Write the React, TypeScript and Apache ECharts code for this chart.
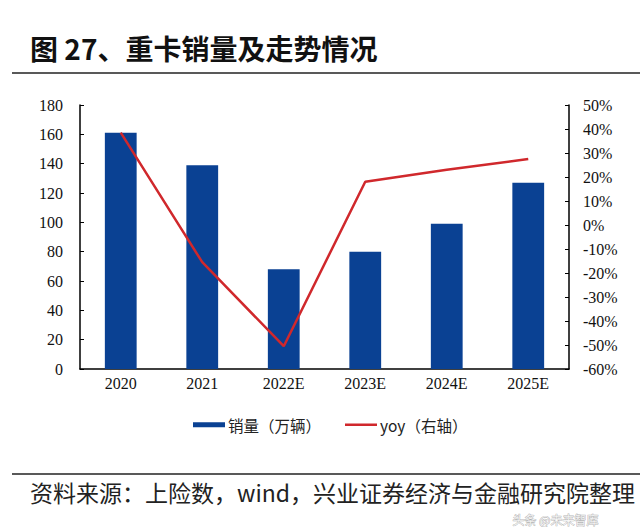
import React, { useEffect, useRef } from "react";
import * as echarts from "echarts";

const categories = ["2020", "2021", "2022E", "2023E", "2024E", "2025E"];
const salesValues = [161, 139, 68, 80, 99, 127];
const yoyValues = [38.5, -15.5, -50.5, 18, 23, 27.5];
const leftTicks = [0, 20, 40, 60, 80, 100, 120, 140, 160, 180];
const rightTicks = [-60, -50, -40, -30, -20, -10, 0, 10, 20, 30, 40, 50];

const titleText = "图 27、重卡销量及走势情况";
const sourceText = "资料来源：上险数，wind，兴业证券经济与金融研究院整理";
const watermark = "头条 @未来智库";

export default function App() {
  const ref = useRef<HTMLDivElement>(null);
  useEffect(() => {
    const chart = echarts.init(ref.current!, null, { renderer: "svg" });
    const serif = "'Liberation Serif', 'Times New Roman', serif";
    const cjk = "'Noto Sans CJK SC', sans-serif";
    chart.setOption({
      animation: false,
      backgroundColor: "#ffffff",
      grid: { left: 80, right: 71, top: 105, bottom: 158 },
      legend: {
        left: 188,
        top: 412,
        itemWidth: 32,
        itemHeight: 5,
        itemGap: 24,
        textStyle: { fontFamily: cjk, fontSize: 15.5, color: "#222", padding: [0, 0, 0, -2] },
        data: [
          { name: "销量（万辆）", icon: "rect" },
          { name: "yoy（右轴）", icon: "path://M0,0h32v2.5H0z" },
        ],
      },
      xAxis: {
        type: "category",
        data: categories,
        axisLine: { lineStyle: { color: "#000", width: 1.5 } },
        axisTick: { show: false },
        axisLabel: { fontFamily: serif, fontSize: 16, color: "#111", margin: 6 },
      },
      yAxis: [
        {
          type: "value",
          min: leftTicks[0],
          max: leftTicks[leftTicks.length - 1],
          interval: 20,
          splitLine: { show: false },
          axisLine: { show: true, lineStyle: { color: "#000", width: 1.5 } },
          axisTick: { show: true, inside: true, length: 4, lineStyle: { color: "#000" } },
          axisLabel: { fontFamily: serif, fontSize: 16, color: "#111", margin: 17 },
        },
        {
          type: "value",
          min: rightTicks[0],
          max: rightTicks[rightTicks.length - 1],
          interval: 10,
          splitLine: { show: false },
          axisLine: { show: true, lineStyle: { color: "#000", width: 1.5 } },
          axisTick: { show: true, inside: true, length: 4, lineStyle: { color: "#000" } },
          axisLabel: {
            fontFamily: serif,
            fontSize: 16,
            color: "#111",
            margin: 14,
            formatter: (v: number) => `${v}%`,
          },
        },
      ],
      series: [
        {
          name: "销量（万辆）",
          type: "bar",
          data: salesValues,
          barWidth: "39%",
          itemStyle: { color: "#0a4193" },
        },
        {
          name: "yoy（右轴）",
          type: "line",
          yAxisIndex: 1,
          data: yoyValues,
          symbol: "none",
          showSymbol: false,
          lineStyle: { color: "#d0282c", width: 2.5 },
          itemStyle: { color: "#d0282c" },
        },
      ],
      graphic: [
        {
          type: "text",
          left: 30,
          top: 34,
          style: {
            text: titleText,
            fontFamily: cjk,
            fontWeight: "bold",
            fontSize: 28,
            fill: "#111",
          },
        },
        {
          type: "line",
          shape: { x1: 12, y1: 73, x2: 640, y2: 73 },
          style: { stroke: "#222", lineWidth: 1.5 },
        },
        {
          type: "line",
          shape: { x1: 12, y1: 474, x2: 640, y2: 474 },
          style: { stroke: "#222", lineWidth: 1.5 },
        },
        {
          type: "text",
          left: 30,
          top: 480,
          style: {
            text: sourceText,
            fontFamily: cjk,
            fontSize: 23,
            lineHeight: 23,
            fill: "#222",
          },
        },
        {
          type: "text",
          left: 512,
          top: 513,
          style: {
            text: watermark,
            fontFamily: cjk,
            fontSize: 12,
            lineHeight: 12,
            fill: "rgba(255,255,255,0.85)",
            stroke: "rgba(120,120,120,0.6)",
            lineWidth: 0.8,
          },
        },
      ],
    });
    return () => chart.dispose();
  }, []);
  return <div ref={ref} style={{ width: 640, height: 527, position: "absolute", left: 0, top: 0 }} />;
}
